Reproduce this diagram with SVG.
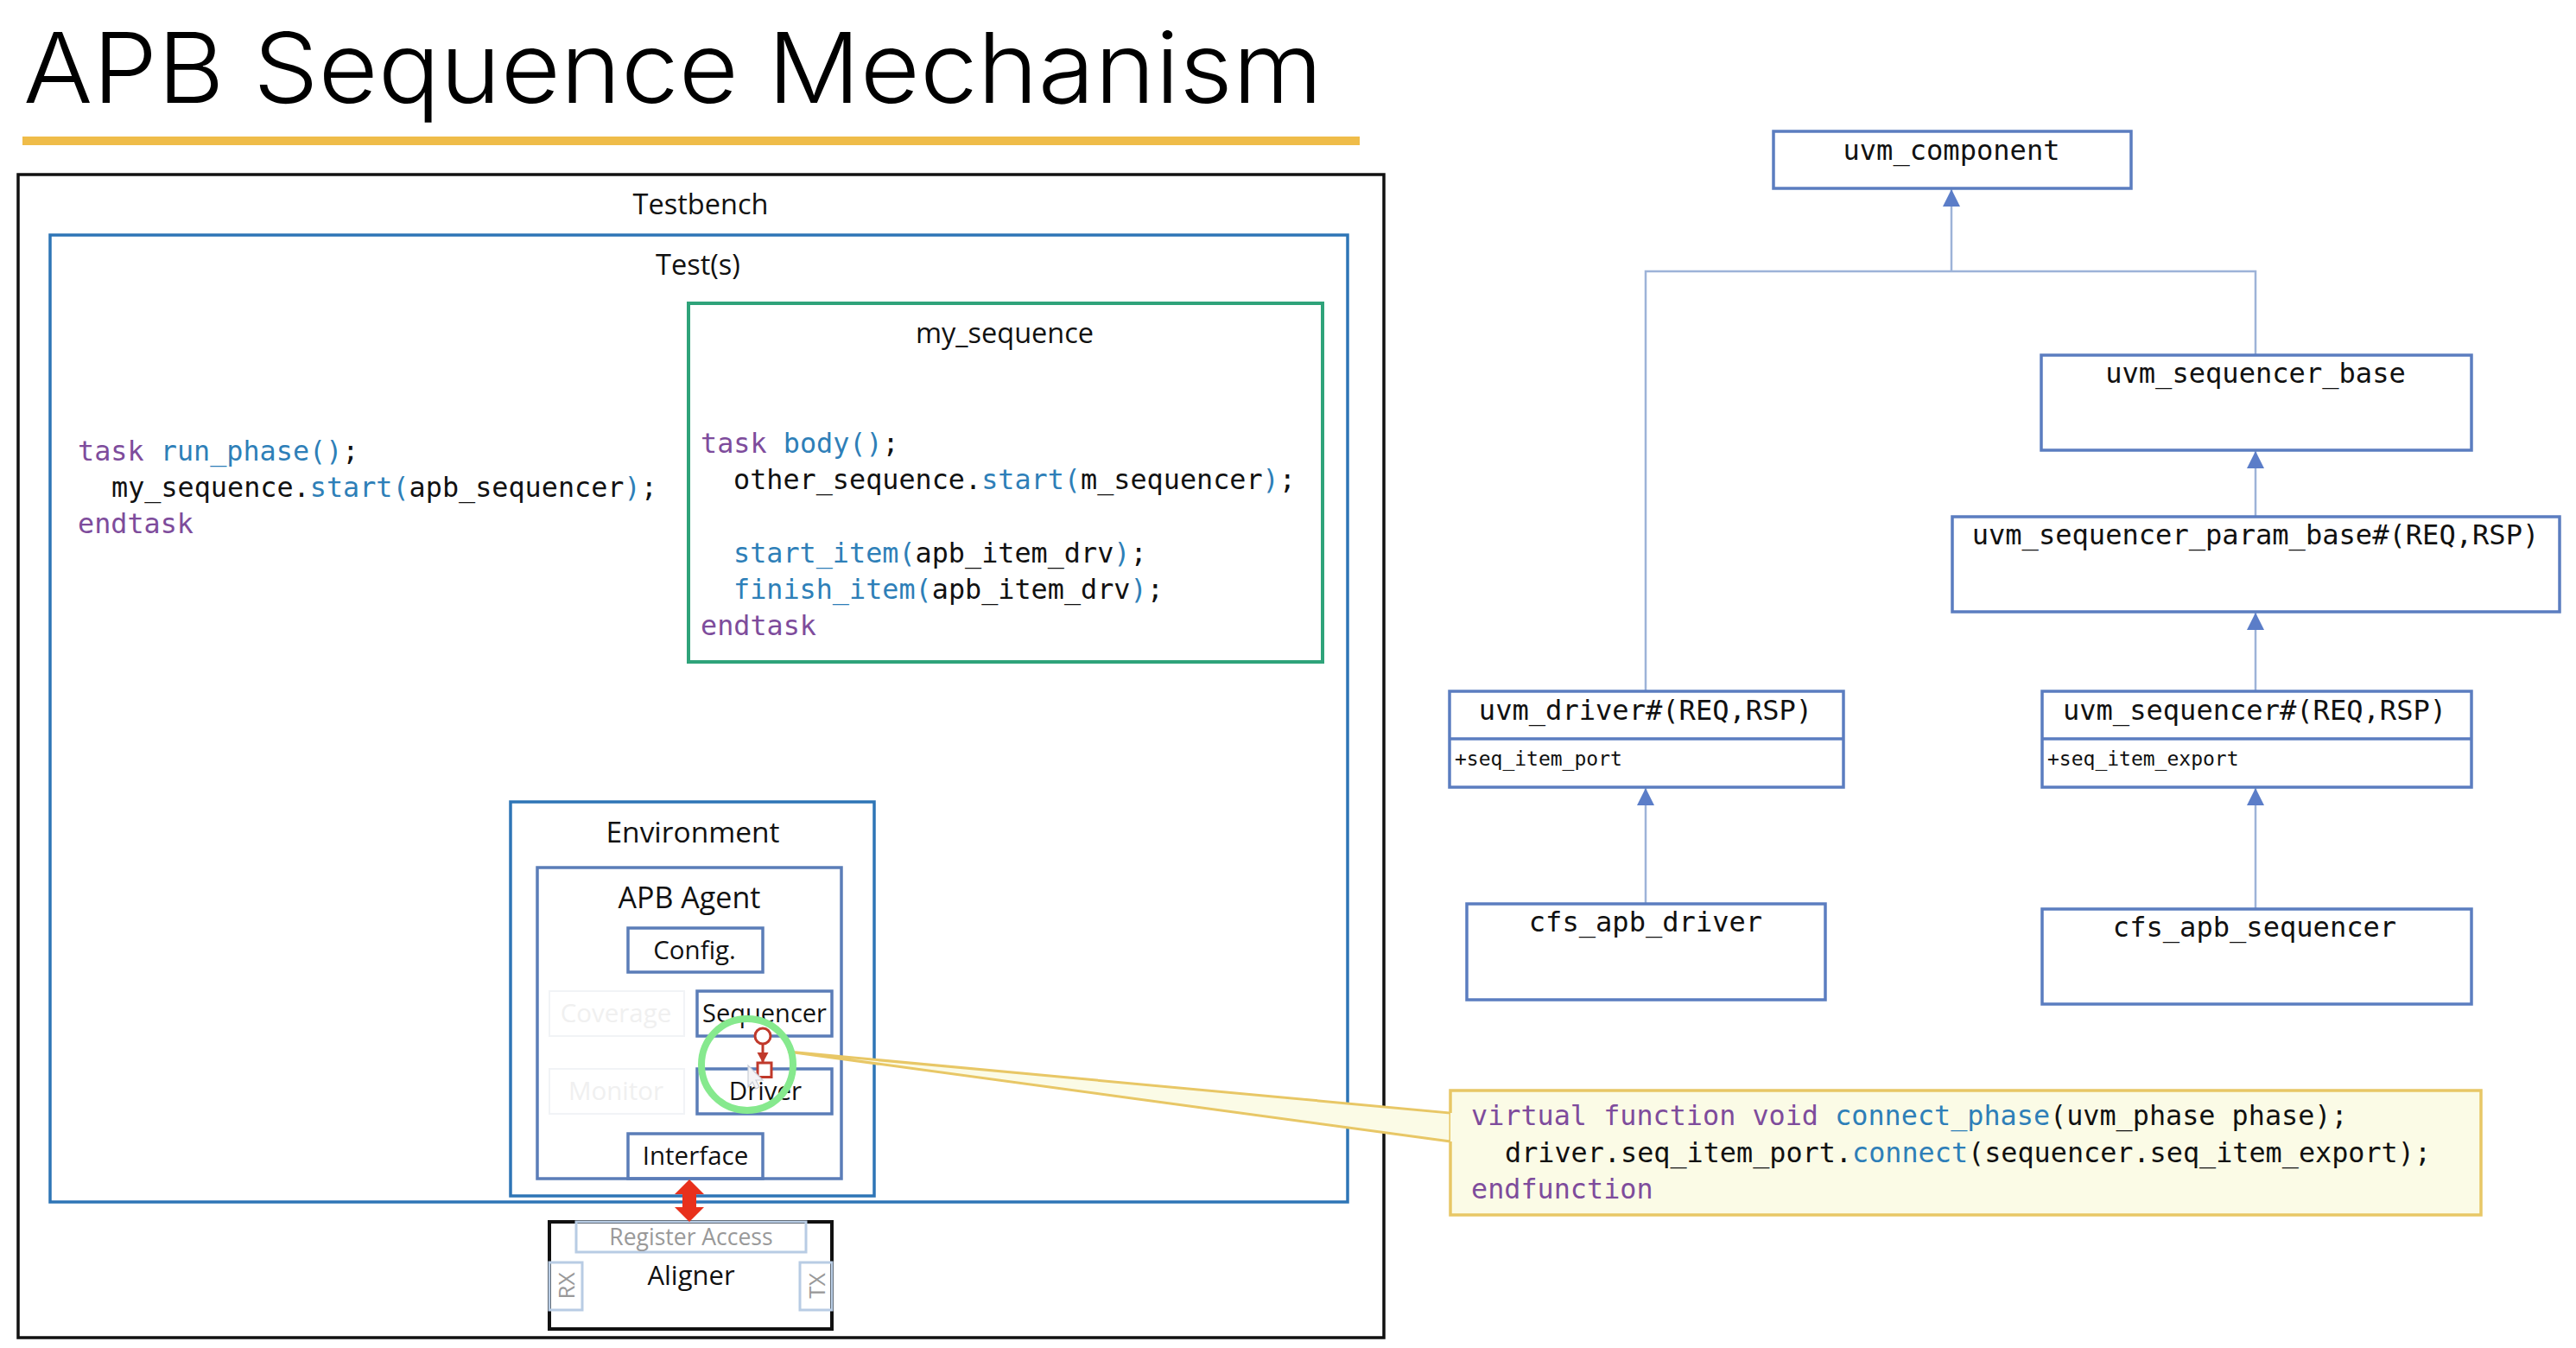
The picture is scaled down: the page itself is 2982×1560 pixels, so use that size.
<svg xmlns="http://www.w3.org/2000/svg" width="2982" height="1560" viewBox="0 0 2982 1560">
<style>
text{font-family:"Open Sans","Noto Sans",sans-serif;fill:#111}
.l{font-size:32.5px;text-anchor:middle}
.s{font-size:29.5px;text-anchor:middle}
.c{font-family:"DejaVu Sans Mono","Liberation Mono",monospace;font-size:31.8px;fill:#111}
.u{font-family:"DejaVu Sans Mono","Liberation Mono",monospace;font-size:32.1px;text-anchor:middle;fill:#111}
.m{font-family:"DejaVu Sans Mono","Liberation Mono",monospace;font-size:23px;fill:#111}
.p{fill:#7E4C9C}.b{fill:#2E7FB8}
.box{fill:none;stroke:#5B7DB8;stroke-width:3.5}
.umlbox{fill:#fff;stroke:#5B7DC0;stroke-width:3.5}
.faint{fill:none;stroke:#F1F3F6;stroke-width:2}
.ft{fill:#F0F0F0}
.lnk{fill:none;stroke:#9DB3D8;stroke-width:2.5}
.pale{fill:none;stroke:#B8CCE4;stroke-width:3}
.gt{fill:#999}
</style>
<defs>
<marker id="tri" markerUnits="userSpaceOnUse" markerWidth="22" markerHeight="22" refX="20" refY="10" orient="auto"><path d="M0 0L20 10L0 20Z" fill="#5B7DC8"/></marker>
<marker id="red" markerUnits="userSpaceOnUse" markerWidth="14" markerHeight="14" refX="12" refY="6.5" orient="auto"><path d="M0 0L12 6.5L0 13Z" fill="#C0392B"/></marker>
</defs>
<rect width="2982" height="1560" fill="#fff"/>
<g id="title">
<text x="27" y="119" font-size="113" font-weight="300" textLength="1504" lengthAdjust="spacingAndGlyphs" style="font-family:Inter,'Open Sans',sans-serif;fill:#000">APB Sequence Mechanism</text>
<rect x="26" y="158" width="1548" height="10" fill="#EFBC49"/>
</g>
<g id="testbench">
<rect x="21" y="202" width="1581" height="1346" fill="none" stroke="#111" stroke-width="3.5"/>
<text class="l" x="811" y="248">Testbench</text>
</g>
<g id="test">
<rect x="58" y="272" width="1502" height="1119" fill="none" stroke="#2E75B6" stroke-width="3.5"/>
<text class="l" x="808" y="318">Test(s)</text>
<text class="c" x="90" y="533"><tspan class="p">task</tspan> <tspan class="b">run_phase()</tspan>;</text>
<text class="c" x="129" y="575">my_sequence.<tspan class="b">start(</tspan>apb_sequencer<tspan class="b">)</tspan>;</text>
<text class="c p" x="90" y="617">endtask</text>
</g>
<g id="my_sequence">
<rect x="797" y="351" width="734" height="415" fill="none" stroke="#2FA37A" stroke-width="4"/>
<text class="l" x="1163" y="397">my_sequence</text>
<text class="c" x="811" y="524"><tspan class="p">task</tspan> <tspan class="b">body()</tspan>;</text>
<text class="c" x="849" y="566">other_sequence.<tspan class="b">start(</tspan>m_sequencer<tspan class="b">)</tspan>;</text>
<text class="c" x="849" y="651"><tspan class="b">start_item(</tspan>apb_item_drv<tspan class="b">)</tspan>;</text>
<text class="c" x="849" y="693"><tspan class="b">finish_item(</tspan>apb_item_drv<tspan class="b">)</tspan>;</text>
<text class="c p" x="811" y="735">endtask</text>
</g>
<g id="environment">
<rect x="591" y="928" width="421" height="456" fill="none" stroke="#2E75B6" stroke-width="3.5"/>
<text x="802" y="975" font-size="33.5" text-anchor="middle">Environment</text>
</g>
<g id="apb_agent">
<rect x="622" y="1004" width="352" height="360" class="box"/>
<text x="798" y="1051" font-size="34" text-anchor="middle">APB Agent</text>
</g>
<g id="config"><rect x="727" y="1074" width="156" height="51" class="box"/><text class="s" x="804" y="1110">Config.</text></g>
<g id="coverage"><rect x="636" y="1147" width="156" height="52" class="faint"/><text class="s ft" x="713" y="1183">Coverage</text></g>
<g id="sequencer"><rect x="807" y="1147" width="156" height="52" class="box"/><text x="885" y="1183" font-size="29" text-anchor="middle">Sequencer</text></g>
<g id="monitor"><rect x="636" y="1237" width="156" height="52" class="faint"/><text class="s ft" x="713" y="1273">Monitor</text></g>
<g id="driver"><rect x="807" y="1237" width="156" height="52" class="box"/><text class="s" x="886" y="1273">Driver</text></g>
<g id="interface"><rect x="727" y="1312" width="156" height="52" class="box"/><text class="s" x="805" y="1348">Interface</text></g>
<g id="highlight">
<path d="M912 1217L1679 1288V1321Z" fill="#FBFBE6" stroke="#E8C766" stroke-width="3"/>
<circle cx="865" cy="1232" r="53" fill="none" stroke="#86E98E" stroke-width="8"/>
</g>
<g id="aligner">
<rect x="636" y="1414" width="327" height="124" fill="#fff" stroke="#111" stroke-width="4"/>
<rect x="667" y="1414" width="266" height="35" class="pale" fill="#fff"/>
<text class="gt" x="800" y="1441" font-size="26.5" text-anchor="middle">Register Access</text>
<text x="800" y="1487" font-size="31" text-anchor="middle">Aligner</text>
<rect x="636" y="1461" width="38" height="55" class="pale"/>
<rect x="926" y="1461" width="37" height="55" class="pale"/>
<text class="gt" font-size="26" text-anchor="middle" transform="translate(665 1488) rotate(-90)">RX</text>
<text class="gt" font-size="26" text-anchor="middle" transform="translate(955 1488) rotate(-90)">TX</text>
</g>
<g id="connectors">
<path class="lnk" d="M2259 314V219"  marker-end="url(#tri)"/>
<path class="lnk" d="M1905 800V314H2611V410"/>
<path class="lnk" d="M2611 598V522" marker-end="url(#tri)"/>
<path class="lnk" d="M2611 800V709" marker-end="url(#tri)"/>
<path class="lnk" d="M1905 1046V912" marker-end="url(#tri)"/>
<path class="lnk" d="M2611 1052V912" marker-end="url(#tri)"/>
<path d="M798 1365L815 1382H806V1397H815L798 1414L781 1397H790V1382H781Z" fill="#E8301C"/>
<path d="M883 1209V1230" stroke="#C0392B" stroke-width="3" fill="none" marker-end="url(#red)"/>
<circle cx="883" cy="1199" r="9" fill="#fff" stroke="#C0392B" stroke-width="3"/>
<rect x="877" y="1230" width="16" height="16.5" fill="#fff" stroke="#C0392B" stroke-width="3"/>
<path d="M866 1233V1258L871 1252L875 1260L879 1258L875 1250H883Z" fill="#F4F4F6" stroke="#C9CDD6" stroke-width="1.2"/>
</g>
<g id="callout">
<path d="M1679 1288V1262H2872V1406H1679V1321" fill="#FBFBE6" stroke="#E8C766" stroke-width="3.5"/>
<text class="c" x="1703" y="1302"><tspan class="p">virtual function void</tspan> <tspan class="b">connect_phase</tspan>(uvm_phase phase);</text>
<text class="c" x="1742" y="1345">driver.seq_item_port.<tspan class="b">connect</tspan>(sequencer.seq_item_export);</text>
<text class="c p" x="1703" y="1387">endfunction</text>
</g>
<g id="uvm_component"><rect x="2053" y="152" width="414" height="66" class="umlbox"/><text class="u" x="2259" y="185">uvm_component</text></g>
<g id="uvm_sequencer_base"><rect x="2363" y="411" width="498" height="110" class="umlbox"/><text class="u" x="2611" y="443">uvm_sequencer_base</text></g>
<g id="uvm_sequencer_param_base"><rect x="2260" y="598" width="703" height="110" class="umlbox"/><text class="u" x="2611" y="630">uvm_sequencer_param_base#(REQ,RSP)</text></g>
<g id="uvm_driver"><rect x="1678" y="800" width="456" height="111" class="umlbox"/><path class="umlbox" d="M1678 855H2134"/><text class="u" x="1905" y="833">uvm_driver#(REQ,RSP)</text><text class="m" x="1684" y="886">+seq_item_port</text></g>
<g id="uvm_sequencer"><rect x="2364" y="800" width="497" height="111" class="umlbox"/><path class="umlbox" d="M2364 855H2861"/><text class="u" x="2610" y="833">uvm_sequencer#(REQ,RSP)</text><text class="m" x="2370" y="886">+seq_item_export</text></g>
<g id="cfs_apb_driver"><rect x="1698" y="1046" width="415" height="111" class="umlbox"/><text class="u" x="1905" y="1078">cfs_apb_driver</text></g>
<g id="cfs_apb_sequencer"><rect x="2364" y="1052" width="497" height="110" class="umlbox"/><text class="u" x="2610" y="1084">cfs_apb_sequencer</text></g>
</svg>
